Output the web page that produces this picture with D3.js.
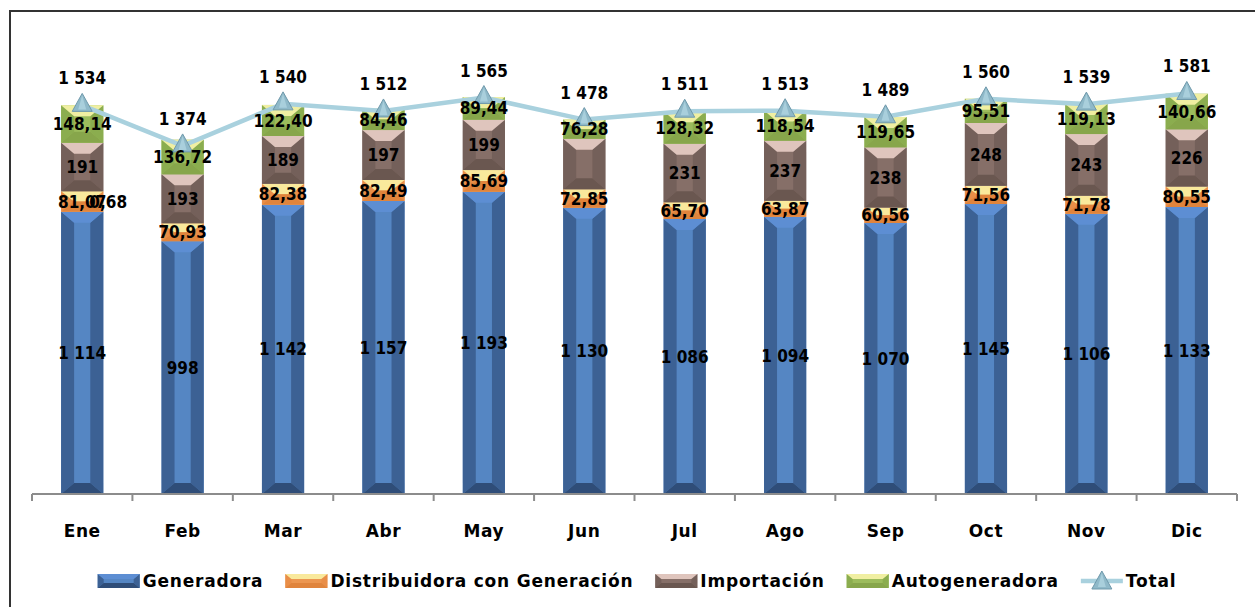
<!DOCTYPE html>
<html><head><meta charset="utf-8">
<script src="https://cdn.jsdelivr.net/npm/d3@7"></script>
<style>
html,body{margin:0;padding:0;background:#fff;}
svg{display:block;}
</style></head>
<body>
<svg id="c" width="1255" height="607"></svg>
<script>
const months = ["Ene","Feb","Mar","Abr","May","Jun","Jul","Ago","Sep","Oct","Nov","Dic"];
const generadora = [1114, 998, 1142, 1157, 1193, 1130, 1086, 1094, 1070, 1145, 1106, 1133];
const distribuidora = [81.07, 70.93, 82.38, 82.49, 85.69, 72.85, 65.70, 63.87, 60.56, 71.56, 71.78, 80.55];
const importacion = [191, 193, 189, 197, 199, 199, 231, 237, 238, 248, 243, 226];
const importacionShowLabel = [true,true,true,true,true,false,true,true,true,true,true,true];
const autogeneradora = [148.14, 136.72, 122.40, 84.46, 89.44, 76.28, 128.32, 118.54, 119.65, 95.51, 119.13, 140.66];
const total = [1534, 1374, 1540, 1512, 1565, 1478, 1511, 1513, 1489, 1560, 1539, 1581];
const extraLabelMonth = ["Ene"];
const extraLabelValue = [0.68];
const seriesNames = ["Generadora","Distribuidora con Generación","Importación","Autogeneradora"];

const palettes = [
  {top:"#5d8ed3", side:"#3c6194", center:"#5586c3", bottom:"#2f4d78"},
  {top:"#f9e99c", side:"#e98e48", center:"#ec9650", bottom:"#e0843c"},
  {top:"#dfc5bd", side:"#74605a", center:"#866f68", bottom:"#6a5750"},
  {top:"#f0efa2", side:"#8bad4f", center:"#9cbc5c", bottom:"#87a64b"}
];

const fmt = v => {
  if (Number.isInteger(v)) {
    const s = String(v);
    return s.length > 3 ? s.slice(0, s.length-3) + " " + s.slice(-3) : s;
  }
  return v.toFixed(2).replace(".", ",");
};

const svg = d3.select("#c");
const W = 1255, H = 607;
const x = d3.scaleBand().domain(months).range([32, 1237]).padding(0);
const y = d3.scaleLinear().domain([0, 1800]).range([494, 38]);
const step = x.step();
const bw = step * 0.42;
const bx = m => x(m) + (step - bw) / 2;
const cx = m => x(m) + step / 2;

// outer frame
svg.append("line").attr("x1",10).attr("x2",W).attr("y1",11).attr("y2",11).attr("stroke","#333").attr("stroke-width",2);
svg.append("line").attr("x1",10).attr("x2",10).attr("y1",10).attr("y2",H).attr("stroke","#333").attr("stroke-width",2);

const seriesArr = [generadora, distribuidora, importacion, autogeneradora];
const stackData = months.map((m,i) => {
  const o = {month: m};
  seriesNames.forEach((s,k) => o[s] = seriesArr[k][i]);
  return o;
});
const stacked = d3.stack().keys(seriesNames)(stackData);

function bevel(g, X, Y, w, h, p, b, bv) {
  b = Math.min(b, w/2.5);
  bv = Math.min(bv, h/2);
  g.append("rect").attr("x",X).attr("y",Y).attr("width",w).attr("height",h).attr("fill",p.center);
  g.append("polygon").attr("points",[[X,Y],[X+b,Y+bv],[X+b,Y+h-bv],[X,Y+h]].join(" ")).attr("fill",p.side);
  g.append("polygon").attr("points",[[X+w,Y],[X+w-b,Y+bv],[X+w-b,Y+h-bv],[X+w,Y+h]].join(" ")).attr("fill",p.side);
  g.append("polygon").attr("points",[[X,Y],[X+w,Y],[X+w-b,Y+bv],[X+b,Y+bv]].join(" ")).attr("fill",p.top);
  g.append("polygon").attr("points",[[X,Y+h],[X+w,Y+h],[X+w-b,Y+h-bv],[X+b,Y+h-bv]].join(" ")).attr("fill",p.bottom);
}

const barsG = svg.append("g");
stacked.forEach((layer, k) => {
  layer.forEach((d, i) => {
    const m = months[i];
    const y0 = y(d[0]), y1 = y(d[1]);
    bevel(barsG.append("g"), bx(m), y1, bw, y0 - y1, palettes[k], 13, 11);
  });
});

// axis
const axisG = svg.append("g");
axisG.append("line").attr("x1",32).attr("x2",1237).attr("y1",494).attr("y2",494).attr("stroke","#8c8c8c").attr("stroke-width",2);
const ticks = months.map(m => x(m)).concat([x(months[months.length-1]) + step]);
axisG.selectAll("line.t").data(ticks).enter().append("line").attr("class","t")
  .attr("x1",d=>d).attr("x2",d=>d).attr("y1",494).attr("y2",501).attr("stroke","#8c8c8c").attr("stroke-width",2);
axisG.selectAll("text").data(months).enter().append("text")
  .attr("x", m => cx(m)).attr("y", 537).attr("text-anchor","middle")
  .style("font-family","'DejaVu Sans'").style("font-weight","bold").style("font-size","17px").style("letter-spacing","0.6px")
  .attr("fill","#000").text(d=>d);

// total line
const line = d3.line().x((d,i)=>cx(months[i])).y(d=>y(d));
svg.append("path").datum(total).attr("d", line).attr("fill","none").attr("stroke","#a9d1de").attr("stroke-width",4.5);

function tri(g, X, Y) {
  g.append("polygon").attr("points",[[X, Y-12],[X+10, Y+6],[X-10, Y+6]].join(" "))
    .attr("fill","#8fb9c9").attr("stroke","#6f99ab").attr("stroke-width",1);
  g.append("polygon").attr("points",[[X, Y-10],[X+4, Y+4],[X-4, Y+4]].join(" ")).attr("fill","#a9cfdc");
}
const mk = svg.append("g");
total.forEach((v,i) => tri(mk, cx(months[i]), y(v)));

// labels
const numFont = "'DejaVu Sans Condensed','DejaVu Sans'";
const lbl = svg.append("g").style("font-family", numFont).style("font-weight","bold")
  .style("font-size","17px").style("font-stretch","condensed").attr("fill","#000").attr("text-anchor","middle");
stacked.forEach((layer, k) => {
  layer.forEach((d, i) => {
    if (k === 2 && !importacionShowLabel[i]) return;
    const m = months[i];
    lbl.append("text").attr("x", cx(m)).attr("y", (y(d[0]) + y(d[1]))/2).attr("dy","0.36em")
      .text(fmt(seriesArr[k][i]));
  });
});
extraLabelMonth.forEach((m, j) => {
  const i = months.indexOf(m);
  const yc = (y(generadora[i]) + y(generadora[i] + distribuidora[i])) / 2;
  lbl.append("text").attr("x", cx(m) + 26).attr("y", yc).attr("dy","0.36em").text(fmt(extraLabelValue[j]));
});
total.forEach((v,i) => {
  lbl.append("text").attr("x", cx(months[i])).attr("y", y(v) - 21).text(fmt(v));
});

// legend
const leg = svg.append("g");
const legFont = {family:"'DejaVu Sans'", size:"17px"};
let lx = 0;
const items = [];
seriesNames.concat(["Total"]).forEach((name, k) => {
  const g = leg.append("g").attr("transform", `translate(${lx},0)`);
  if (k < 4) {
    bevel(g, 0, 574, 42, 14, palettes[k], 6, 5);
  } else {
    g.append("line").attr("x1",0).attr("x2",42).attr("y1",581).attr("y2",581).attr("stroke","#a9d1de").attr("stroke-width",4.5);
    tri(g, 21, 583);
  }
  const t = g.append("text").attr("x", 45).attr("y", 587)
    .style("font-family",legFont.family).style("font-weight","bold").style("font-size",legFont.size).style("letter-spacing","0.8px")
    .attr("fill","#000").text(name);
  const tw = t.node().getComputedTextLength();
  lx += 45 + tw + 22;
});
const totalW = lx - 22;
leg.attr("transform", `translate(${637 - totalW/2},0)`);
</script>
</body></html>
